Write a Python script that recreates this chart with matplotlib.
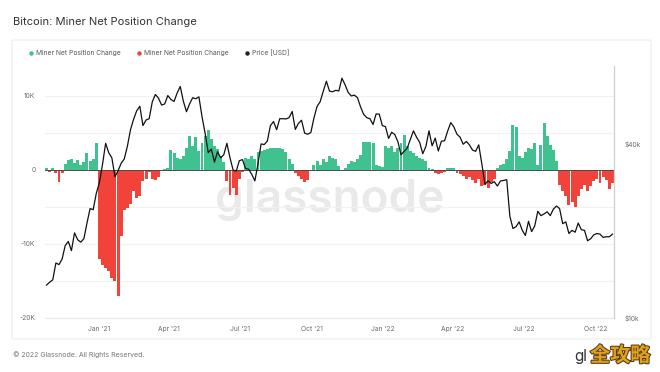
import matplotlib
matplotlib.use("Agg")
import matplotlib.pyplot as plt
import matplotlib.patheffects as pe
from matplotlib.lines import Line2D
from matplotlib.patches import FancyBboxPatch
import pandas as pd

plt.rcParams['font.family'] = ['Inter', 'DejaVu Sans']

# ---------------- data ----------------
start_date = "2020-10-25"
step = "4D"

# Miner net position change (thousand BTC), one value per 4 days
net_change_k = [
    0.2, -0.3, 0.3, -0.4, -1.6, -0.5, 0.8, 1.3, 1.4, 0.9,
    1.3, 0.6, 1.0, 2.2, 1.2, 1.4, 3.6, -12.0, -12.8, -13.2,
    -13.7, -14.6, -15.0, -17.0, -9.0, -5.4, -5.2, -4.6, -2.8, -3.8,
    -3.6, -1.5, -1.2, -0.3, -1.2, -1.4, -1.0, -0.2, 0.1, 0.3,
    2.7, 2.2, 1.6, 1.5, 1.8, 3.0, 4.5, 3.2, 4.4, 2.5,
    3.6, 4.6, 5.4, 4.2, 3.2, 2.8, 1.9, 1.0, -1.5, -3.4,
    -2.4, -3.4, -1.2, -0.3, 1.6, 1.4, 1.8, 1.5, 2.4, 2.5,
    2.6, 2.8, 2.9, 3.0, 2.9, 3.0, 2.8, 2.4, 1.5, 0.8,
    -0.5, -0.8, -1.2, -1.6, -1.4, -0.2, 0.6, 1.2, 0.7, 1.4,
    1.0, 1.8, 1.6, 1.4, 0.5, 0.0, 0.3, 0.8, 1.2, 1.0,
    1.5, 2.0, 3.8, 3.8, 3.8, 3.6, 0.6, 0.5, 0.4, 3.2,
    3.0, 3.2, 2.4, 3.0, 3.6, 4.7, 3.2, 2.5, 2.2, 1.8,
    1.6, 1.4, 1.2, 0.3, 0.1, -0.4, -0.6, -0.5, -0.3, 0.2,
    0.3, 0.2, -0.4, -0.6, -0.9, -1.2, -1.0, -1.4, -1.8, -1.2,
    -2.2, -2.0, -2.4, -1.6, -1.2, 0.3, 0.7, 0.8, 1.5, 2.5,
    6.0, 5.8, 1.8, 1.6, 2.4, 2.9, 2.8, 3.6, 0.6, 3.4,
    6.3, 4.5, 3.4, 2.6, 1.2, -2.0, -2.9, -3.6, -4.7, -4.4,
    -5.0, -3.5, -2.6, -2.0, -2.9, -2.2, -1.5, -1.2, -1.8, -1.0,
    -1.4, -2.6, -1.8,
]

# BTC price (USD), one value per 4 days
price_usd = [
    13000, 13300, 13550, 15500, 15300, 16000, 17800, 18400, 17100, 19700,
    18650, 18300, 18800, 21300, 23900, 23700, 27000, 29400, 34000, 40200,
    37300, 35800, 30800, 32300, 34300, 35500, 39300, 44800, 48700, 52100,
    54000, 46300, 48400, 48900, 55900, 59300, 57600, 54500, 55000, 58800,
    57000, 56100, 60000, 63200, 56200, 51700, 55000, 57800, 57300, 58200,
    49700, 43500, 37300, 38400, 34600, 37600, 35800, 36700, 40200, 35800,
    32500, 32200, 35000, 35300, 32900, 32700, 31400, 29800, 34200, 40000,
    39800, 40900, 46300, 47800, 44800, 48900, 48900, 48800, 49300, 51800,
    44900, 47100, 48300, 43600, 43200, 43800, 49200, 53900, 56000, 60900,
    65900, 60900, 60600, 61300, 61000, 67500, 64100, 60300, 58600, 59000,
    57800, 53700, 50600, 49300, 48900, 46700, 50800, 50700, 46300, 45900,
    41800, 43900, 43100, 40700, 36700, 37700, 38700, 41400, 44400, 42200,
    40500, 37000, 39200, 44400, 39400, 41900, 37800, 40900, 41000, 44300,
    47400, 45800, 43200, 42200, 39900, 40800, 39700, 38100, 37700, 39700,
    34100, 29000, 29800, 29200, 29600, 28600, 29800, 29900, 30100, 22500,
    20400, 20700, 21500, 20100, 19300, 21600, 19900, 20800, 23400, 22600,
    22900, 23300, 22600, 23800, 24400, 23900, 21200, 21500, 19600, 20100,
    19800, 21300, 20200, 20100, 18500, 18800, 19400, 19600, 19500, 19000,
    19100, 19100, 19500,
]

x_tick_dates = ["2021-01-01", "2021-04-01", "2021-07-01", "2021-10-01",
                "2022-01-01", "2022-04-01", "2022-07-01", "2022-10-01"]
x_tick_labels = ["Jan '21", "Apr '21", "Jul '21", "Oct '21",
                 "Jan '22", "Apr '22", "Jul '22", "Oct '22"]
left_ticks = [-20, -10, 0, 10]
left_tick_labels = ["-20K", "-10K", "0", "10K"]
right_ticks = [10000, 40000]
right_tick_labels = ["$10k", "$40k"]
series_names = ["Miner Net Position Change", "Miner Net Position Change", "Price [USD]"]

# ---------------- figure ----------------
W, H = 660, 372
fig = plt.figure(figsize=(W / 100, H / 100), dpi=100)
fig.patch.set_facecolor("white")

def fx(x):
    return x / W

def fy(y):
    return 1 - y / H

# card
card = FancyBboxPatch((fx(12), fy(339)), fx(639), 299 / H,
                      boxstyle="round,pad=0,rounding_size=0.004",
                      transform=fig.transFigure, facecolor="white",
                      edgecolor="#ececec", linewidth=0.8, zorder=0)
fig.add_artist(card)

GREEN = "#3fc28f"
RED = "#f2433b"
GRAY_TXT = "#6b6b6b"

ax = fig.add_axes([fx(45), fy(318), (614 - 45) / W, (318 - 66) / H])
ax.set_facecolor("none")

bar_dates = pd.date_range(start_date, periods=len(net_change_k), freq=step)
price_dates = pd.date_range(start_date, periods=len(price_usd), freq=step)
colors = [GREEN if v >= 0 else RED for v in net_change_k]

# watermark
ax.text(0.5, 0.47, "glassnode", transform=ax.transAxes, ha="center", va="center",
        fontsize=33, color="#e9e9e9", fontweight="semibold", zorder=0)

for g in [-15, -5, 5, 10, -10, -20]:
    ax.axhline(g, color="#f1f1f1", lw=0.9, zorder=0.5)

ax.bar(bar_dates, net_change_k, width=3.8, color=colors, linewidth=0, zorder=2)
ax.axhline(0, color="#4a4a4a", lw=0.7, zorder=3)

ax.set_ylim(-20, 14)
ax.set_xlim(pd.Timestamp("2020-10-23"), pd.Timestamp("2022-10-25"))
ax.set_yticks(left_ticks)
ax.set_yticklabels(left_tick_labels)
ax.set_xticks(pd.to_datetime(x_tick_dates))
ax.set_xticklabels(x_tick_labels)
ax.tick_params(axis="both", length=0, labelsize=4.8, labelcolor=GRAY_TXT)
ax.tick_params(axis="y", pad=7)
ax.tick_params(axis="x", pad=6)
for s in ["top", "left", "right"]:
    ax.spines[s].set_visible(False)
ax.spines["bottom"].set_color("#e9e9e9")
ax.spines["bottom"].set_linewidth(0.8)

ax2 = ax.twinx()
ax2.set_yscale("log")
ax2.set_ylim(10000, 74400)
ax2.plot(price_dates, price_usd, color="#111111", lw=0.9, zorder=4)
ax2.set_yticks(right_ticks)
ax2.set_yticklabels(right_tick_labels)
ax2.yaxis.set_minor_locator(matplotlib.ticker.NullLocator())
ax2.tick_params(axis="y", length=0, labelsize=4.8, labelcolor=GRAY_TXT, pad=8)
for s in ["top", "left", "bottom"]:
    ax2.spines[s].set_visible(False)
ax2.spines["right"].set_color("#cfcfcf")
ax2.spines["right"].set_linewidth(0.9)

# title
fig.text(fx(13), fy(22), "Bitcoin: Miner Net Position Change", fontsize=8,
         color="#333333", ha="left", va="center")

# legend
leg_items = [(31, GREEN, series_names[0]), (139, RED, series_names[1]), (247, "#222222", series_names[2])]
for x0, c, name in leg_items:
    fig.add_artist(Line2D([fx(x0)], [fy(53)], marker="o", markersize=3.2, color=c,
                          markeredgewidth=0, transform=fig.transFigure))
    fig.text(fx(x0 + 5), fy(53), name, fontsize=4.8, color="#555555", ha="left", va="center")

# footer
fig.text(fx(13), fy(355), "© 2022 Glassnode. All Rights Reserved.", fontsize=5,
         color="#777777", ha="left", va="center")
fig.text(fx(574), fy(356), "gl", fontsize=11, color="#333333", ha="left", va="center")
fig.text(fx(590), fy(355), "全攻略", fontsize=14.5, fontweight="bold", color="#e0a21e",
         ha="left", va="center", family=["Noto Sans CJK SC", "DejaVu Sans"],
         path_effects=[pe.withStroke(linewidth=1.5, foreground="#5a3a10")])

fig.savefig("out.png", dpi=100, facecolor="white")
